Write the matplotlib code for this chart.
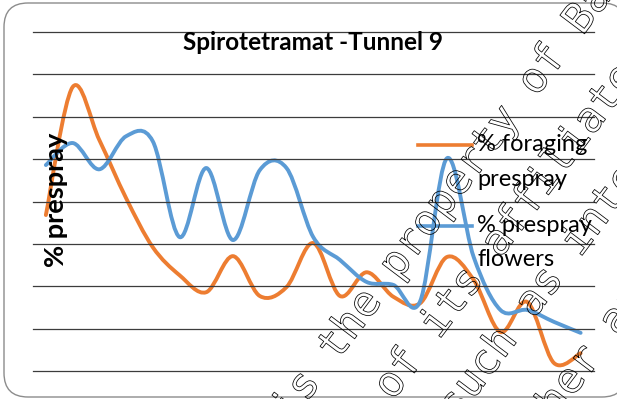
import numpy as np
import matplotlib
matplotlib.use("Agg")
import matplotlib.pyplot as plt
from matplotlib.path import Path
from matplotlib.patches import PathPatch, FancyBboxPatch
from matplotlib.lines import Line2D
from matplotlib import patheffects
from matplotlib.transforms import IdentityTransform

title = "Spirotetramat -Tunnel 9"
y_label = "% prespray"
legend_foraging = ["% foraging", "prespray"]
legend_flowers = ["% prespray", "flowers"]

# sampling dates on a category axis, one value per date
foraging = [36.8, 67.0, 54.5, 40.8, 29.2, 22.6, 18.6, 27.1, 17.7, 19.8, 30.2,
            17.7, 23.3, 17.5, 16.0, 26.9, 21.5, 9.2, 16.3, 1.9, 4.2]
flowers = [48.6, 53.8, 47.6, 55.4, 54.2, 31.6, 47.9, 30.9, 47.4, 47.9, 31.6,
           26.2, 21.0, 20.3, 16.5, 50.2, 26.9, 14.4, 14.4, 11.6, 9.0]

ORANGE = "#ED7D31"
BLUE = "#5B9BD5"
W, H = 617, 399


def smooth_path(xs, ys):
    # cubic bezier through every point, excel style smoothing
    pts = np.column_stack([xs, ys]).astype(float)
    ext = np.vstack([pts[0], pts, pts[-1]])
    verts = [pts[0]]
    codes = [Path.MOVETO]
    for i in range(len(pts) - 1):
        p0, p1, p2, p3 = ext[i], ext[i + 1], ext[i + 2], ext[i + 3]
        verts += [p1 + (p2 - p0) / 6, p2 - (p3 - p1) / 6, p2]
        codes += [Path.CURVE4] * 3
    return Path(verts, codes)


fig = plt.figure(figsize=(W / 100, H / 100), dpi=100)

border = FancyBboxPatch((4, 2), 622, 394, boxstyle="round,pad=0,rounding_size=24",
                        transform=IdentityTransform(), facecolor="white",
                        edgecolor="#8c8c8c", linewidth=1.0, zorder=-1)
fig.add_artist(border)

ax = fig.add_axes([32.5 / W, (H - 371) / H, (594 - 32.5) / W, 339 / H])
ax.set_facecolor("none")
ax.set_xlim(-0.5, len(foraging) - 0.5)
ax.set_ylim(0, 80)
ax.set_yticks(np.arange(0, 81, 10))
ax.grid(axis="y", color="#3c3c3c", linewidth=0.9)
for line in ax.get_ygridlines():
    line.set_clip_on(False)
ax.tick_params(length=0, labelleft=False, labelbottom=False)
for sp in ax.spines.values():
    sp.set_visible(False)

x = np.arange(len(foraging))
for vals, col in [(foraging, ORANGE), (flowers, BLUE)]:
    ax.add_patch(PathPatch(smooth_path(x, vals), facecolor="none", edgecolor=col,
                           linewidth=2.8, capstyle="round", joinstyle="round"))

fig.text(313 / W, 1 - 42 / H, title, ha="center", va="center",
         family="Lato", weight="bold", fontsize=17.5)
fig.text(56 / W, 1 - 200 / H, y_label, ha="center", va="center", rotation=90,
         family="Lato", weight="bold", fontsize=19.5)

# legend drawn by hand so the handle sits on the first text line
for (lines, col, yy) in [(legend_foraging, ORANGE, 145), (legend_flowers, BLUE, 226)]:
    fig.add_artist(Line2D([418 / W, 472 / W], [1 - yy / H] * 2, color=col, linewidth=2.6))
    fig.text(477 / W, 1 - yy / H, lines[0], ha="left", va="center", family="Lato", fontsize=17)
    fig.text(477 / W, 1 - (yy + 34) / H, lines[1], ha="left", va="center", family="Lato", fontsize=17)

# outlined diagonal watermark
WM_ANGLE = 53.0
ADV = 25.5
wm_lines = [
    ("is the property of Bayer", 3, 335, 345),
    ("or of its affiliates", 6, 437, 323),
    ("or such as internal", 8, 532, 302),
    ("or other and", 6, 570, 381),
]
ang = np.deg2rad(WM_ANGLE)
for text, k, cx, cy in wm_lines:
    sx = cx - (k + 0.5) * ADV * np.cos(ang)
    sy = (H - cy) - (k + 0.5) * ADV * np.sin(ang)
    fig.text(sx / W, sy / H, text, rotation=WM_ANGLE, rotation_mode="anchor",
             ha="left", va="center", family="DejaVu Sans Mono",
             fontsize=ADV / 0.602 * 0.72, color=(0, 0, 0, 0),
             path_effects=[patheffects.Stroke(linewidth=0.55, foreground="black")])

fig.savefig("out.png", dpi=100)
